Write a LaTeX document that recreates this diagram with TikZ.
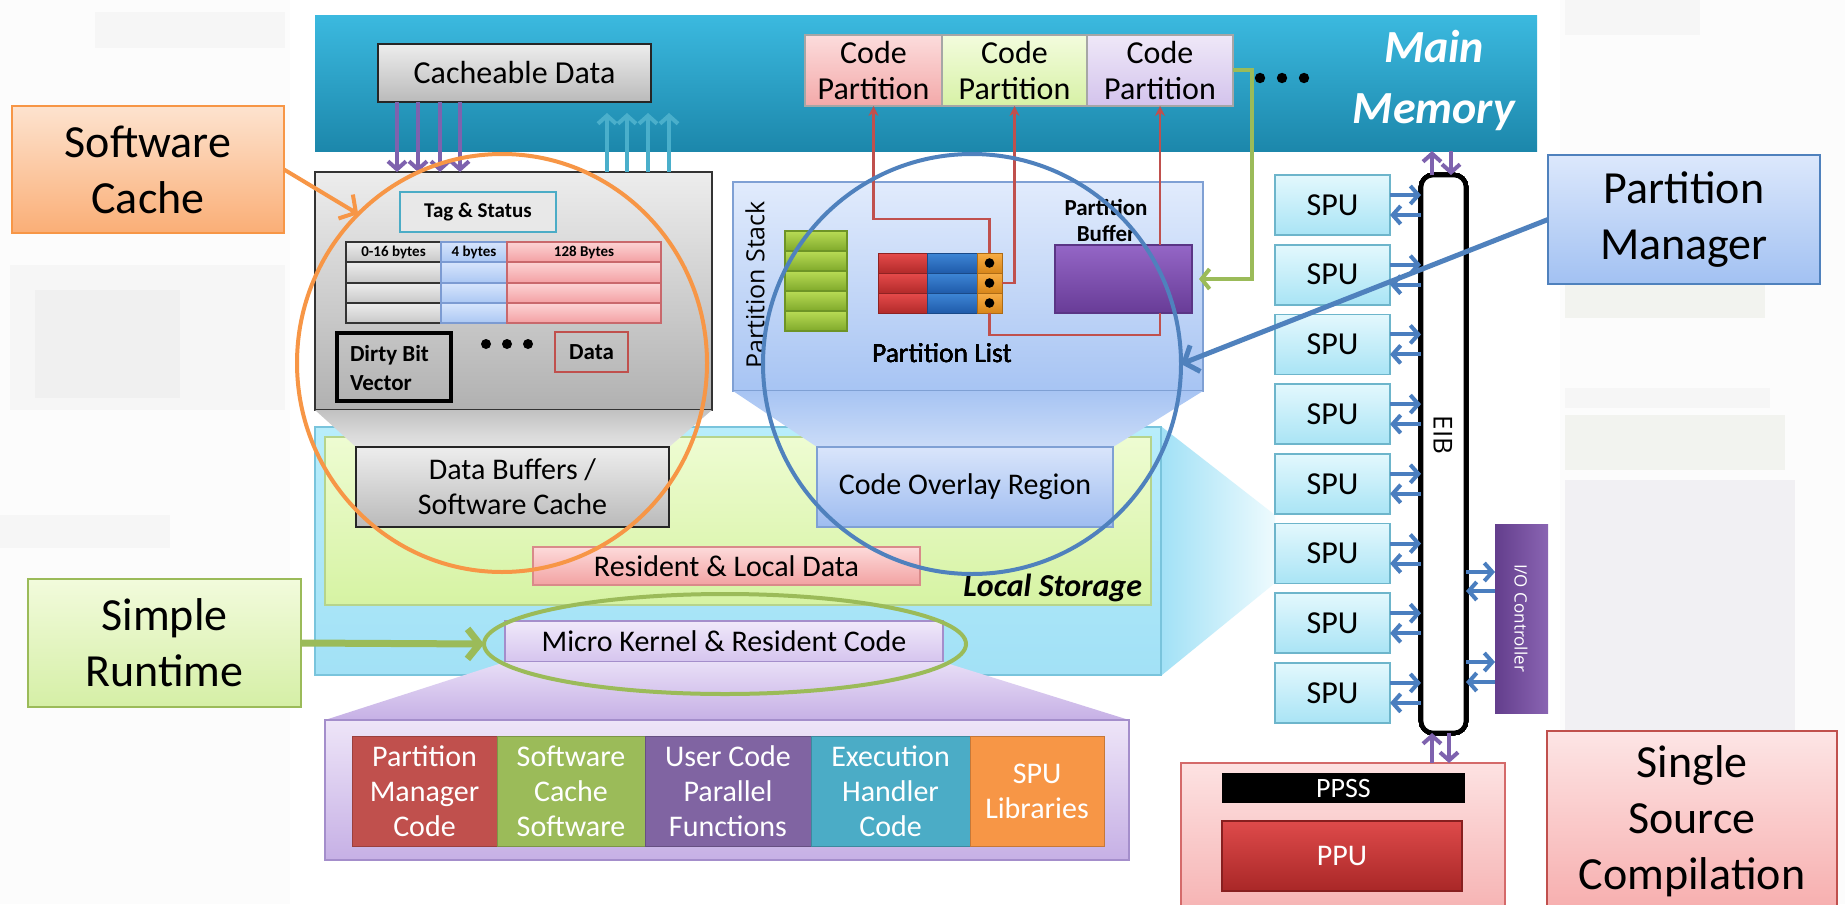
\documentclass[tikz,border=0pt]{standalone}
\usepackage{fontspec}
\setmainfont{Carlito}
\newfontfamily\osans{Open Sans}
\usetikzlibrary{arrows.meta,shapes.geometric}

% palette
\definecolor{mmT}{HTML}{3BB9DF}\definecolor{mmB}{HTML}{1C87AB}
\definecolor{gT}{HTML}{EDEDED}\definecolor{gB}{HTML}{BABABA}
\definecolor{cpaT}{HTML}{FCDCDC}\definecolor{cpaB}{HTML}{F3A9A9}
\definecolor{cpbT}{HTML}{F3FCDD}\definecolor{cpbB}{HTML}{D7F1A6}
\definecolor{cpcT}{HTML}{EFE8F8}\definecolor{cpcB}{HTML}{D3C3EC}
\definecolor{pmT}{HTML}{E1EBFC}\definecolor{pmB}{HTML}{A7C4F3}\definecolor{pmD}{HTML}{7FA0D4}
\definecolor{lscT}{HTML}{B8EDFB}\definecolor{lscB}{HTML}{A2E1F6}\definecolor{lscD}{HTML}{79C4DC}
\definecolor{lsgT}{HTML}{EEFCD2}\definecolor{lsgB}{HTML}{D6F3A3}\definecolor{lsgD}{HTML}{B6D48C}
\definecolor{corT}{HTML}{D9E5FB}\definecolor{corB}{HTML}{9EBCF0}
\definecolor{rldT}{HTML}{FDDADA}\definecolor{rldB}{HTML}{F2A2A2}\definecolor{rldD}{HTML}{D98A8A}
\definecolor{mkT}{HTML}{F0E9FA}\definecolor{mkB}{HTML}{D5C4EE}\definecolor{mkD}{HTML}{A48ECB}
\definecolor{libT}{HTML}{EEE5F8}\definecolor{libB}{HTML}{C6B0E5}
\definecolor{bR}{HTML}{C0504D}\definecolor{bG}{HTML}{9BBB59}\definecolor{bP}{HTML}{8064A2}
\definecolor{bT}{HTML}{4BACC6}\definecolor{bO}{HTML}{F79646}
\definecolor{spuT}{HTML}{E3F8FD}\definecolor{spuB}{HTML}{A9E4F5}\definecolor{spuD}{HTML}{6DB5CB}
\definecolor{arrB}{HTML}{4A7EBF}\definecolor{arrP}{HTML}{7E62AE}\definecolor{arrT}{HTML}{4AAFCB}
\definecolor{lnR}{HTML}{C0504D}\definecolor{lnG}{HTML}{9BBB59}
\definecolor{ioC}{HTML}{7549A5}
\definecolor{ppbT}{HTML}{FDE2E2}\definecolor{ppbB}{HTML}{F6B3B3}\definecolor{ppbD}{HTML}{D46A6A}
\definecolor{ppuT}{HTML}{DE4A4A}\definecolor{ppuB}{HTML}{A92727}
\definecolor{scT}{HTML}{FDE3CF}\definecolor{scB}{HTML}{FAAE76}\definecolor{scD}{HTML}{F79646}
\definecolor{srT}{HTML}{F2FBDC}\definecolor{srB}{HTML}{D5EFA6}\definecolor{srD}{HTML}{9BBB59}
\definecolor{plT}{HTML}{DCE8FC}\definecolor{plB}{HTML}{A2C1F2}\definecolor{plD}{HTML}{4F81BD}
\definecolor{ssT}{HTML}{FDE5E5}\definecolor{ssB}{HTML}{F7AEAE}\definecolor{ssD}{HTML}{C0504D}
\definecolor{stT}{HTML}{B9DB55}\definecolor{stB}{HTML}{7FA92B}\definecolor{stD}{HTML}{6E9426}
\definecolor{lrT}{HTML}{E64B4B}\definecolor{lrB}{HTML}{B22A2A}
\definecolor{lbT}{HTML}{3E86D6}\definecolor{lbB}{HTML}{1F5BAA}
\definecolor{loT}{HTML}{F8AD45}\definecolor{loB}{HTML}{D8861A}
\definecolor{pbT}{HTML}{9466C6}\definecolor{pbB}{HTML}{683C97}\definecolor{pbD}{HTML}{5A3585}
\definecolor{tbT}{HTML}{D7E5FC}\definecolor{tbB}{HTML}{ABC7F3}\definecolor{tbD}{HTML}{7C9BD2}
\definecolor{trT}{HTML}{FCD3D4}\definecolor{trB}{HTML}{F3A0A3}\definecolor{trD}{HTML}{C9686C}
\definecolor{bgA}{HTML}{FCFCFC}\definecolor{bgB}{HTML}{F6F6F6}\definecolor{bgC}{HTML}{F0F0F0}
\definecolor{bgG}{HTML}{F2F3EF}\definecolor{bgL}{HTML}{F1F0F3}

\newcommand\fsz[2]{\fontsize{#1}{#2}\selectfont}
% box node from its corners: name, x1, y1, x2, y2, style, text
\newcommand\mkbox[7]{\node[#6, minimum width={((#4)-(#2))*0.5pt}, minimum height={((#5)-(#3))*0.5pt}] (#1) at ({((#2)+(#4))/2},{((#3)+(#5))/2}) {#7};}

\begin{document}
\begin{tikzpicture}[x=0.5pt,y=-0.5pt,
  every node/.style={inner sep=0pt,outer sep=0pt},
  tx/.style={font=\fsz{15}{17.5},align=center},
  lblbox/.style={draw,line width=1pt,align=center,font=\fsz{23}{28}},
  greybox/.style={draw=black!85,line width=1.1pt,top color=gT,bottom color=gB},
  cpbox/.style={draw=black!35,line width=0.6pt,align=center,font=\fsz{16}{18}},
  spubox/.style={draw=spuD,line width=0.8pt,top color=spuT,bottom color=spuB,font=\fsz{16}{18}},
  blk/.style={tx,text=white,line width=0.4pt},
  cellbox/.style={line width=0.7pt},
  barw/.style={draw=arrB,line width=2pt,-{Straight Barb[length=4pt,width=9pt]}},
  parw/.style={draw=arrP,line width=2pt,-{Straight Barb[length=4pt,width=9pt]}},
  tarw/.style={draw=arrT,line width=2pt,-{Straight Barb[length=4pt,width=9pt]}},
  redln/.style={draw=lnR,line width=1.4pt},
  ring/.style={ellipse,draw,line width=2pt},
]
\useasboundingbox (0,0) rectangle (1845,904);
\clip (0,0) rectangle (1845,904);
\fill[white] (0,0) rectangle (1845,904);

% faded slide behind
\fill[bgA] (0,0) rectangle (290,904);
\fill[bgB] (95,12) rectangle (285,48);
\fill[bgB] (10,265) rectangle (285,410);
\fill[bgC] (35,290) rectangle (180,398);
\fill[bgB] (0,515) rectangle (170,548);
\fill[bgA] (1560,0) rectangle (1845,904);
\fill[bgB] (1565,0) rectangle (1700,35);
\fill[bgG] (1565,282) rectangle (1765,318);
\fill[bgB] (1565,388) rectangle (1770,408);
\fill[bgG] (1565,415) rectangle (1785,470);
\fill[bgL] (1565,480) rectangle (1795,735);

% ---------- main memory ----------
\mkbox{mm}{315}{16}{1537}{151}{top color=mmT,bottom color=mmB}{}
\node[font=\bfseries\itshape\fsz{23}{30.5},text=white,align=center] (mmt) at (1434,80) {Main\\Memory};
\mkbox{cd}{378}{44}{651}{102}{greybox,font=\fsz{16}{18}}{Cacheable Data}
\mkbox{cpa}{805}{35}{942}{106}{cpbox,top color=cpaT,bottom color=cpaB}{Code\\Partition}
\mkbox{cpb}{942}{35}{1087}{106}{cpbox,top color=cpbT,bottom color=cpbB}{Code\\Partition}
\mkbox{cpc}{1087}{35}{1233}{106}{cpbox,top color=cpcT,bottom color=cpcB}{Code\\Partition}
\foreach \dx in {1260,1282,1304} \fill (\dx,78) circle (2.6pt);

% ---------- local storage ----------
\mkbox{lsc}{315}{427}{1161}{675}{draw=lscD,line width=0.8pt,top color=lscT,bottom color=lscB}{}
\shade[left color=lscB,right color=spuT!60] (1162,427) -- (1275,515) -- (1275,583) -- (1162,675) -- cycle;
\mkbox{lsg}{325}{437}{1151}{605}{draw=lsgD,line width=0.8pt,top color=lsgT,bottom color=lsgB}{}
\node[font=\bfseries\itshape\fsz{16}{18},anchor=east] (lst) at (1142,588) {Local Storage};

% ---------- software cache ----------
\mkbox{swc}{315}{172}{712}{410}{draw=black!80,line width=1.1pt,top color=gT,bottom color=gB!95!black}{}
\mkbox{tag}{400}{192}{556}{232}{draw=bT,line width=1.3pt,fill=gT!90!gB,font=\bfseries\fsz{10.5}{12}}{Tag \& Status}
\foreach \r/\ya/\yb in {0/242/262,1/262/283,2/283/303,3/303/323}{
  \mkbox{ta\r}{346}{\ya}{441}{\yb}{cellbox,draw=black!80,top color=gT,bottom color=gB!80}{}
  \mkbox{tb\r}{441}{\ya}{507}{\yb}{cellbox,draw=tbD,top color=tbT,bottom color=tbB}{}
  \mkbox{tc\r}{507}{\ya}{661}{\yb}{cellbox,draw=trD,top color=trT,bottom color=trB}{}
}
\node[font=\bfseries\fsz{7.5}{9}] at (ta0) {0-16 bytes};
\node[font=\bfseries\fsz{7.5}{9}] at (tb0) {4 bytes};
\node[font=\bfseries\fsz{7.5}{9}] at (tc0) {128 Bytes};
\mkbox{dbv}{337}{333}{451}{401}{draw=black,line width=1.6pt}{}
\node[font=\bfseries\fsz{11.5}{14.5},align=left,anchor=west] (dbvt) at (350,368) {Dirty Bit\\Vector};
\foreach \dx in {486,507,528} \fill (\dx,344) circle (2.5pt);
\mkbox{dat}{555}{332}{628}{372}{draw=lnR,line width=1.3pt,font=\bfseries\fsz{11.5}{13}}{Data}

\shade[top color=gB!90,bottom color=gT!85!gB] (315,410) -- (712,410) -- (669,447) -- (356,447) -- cycle;
\mkbox{dbuf}{356}{447}{669}{527}{greybox,tx}{Data Buffers /\\Software Cache}

% ---------- partition manager region ----------
\mkbox{pmr}{733}{182}{1203}{391}{draw=pmD,line width=0.8pt,top color=pmT,bottom color=pmB}{}
\node[rotate=90,font=\osans\fsz{12.5}{15}] (pst) at (755,285) {Partition Stack};
\foreach \k in {0,...,4}
  \mkbox{gs\k}{785}{231+20*\k}{847}{251+20*\k}{draw=stD,line width=0.6pt,top color=stT,bottom color=stB}{}
\foreach \k in {1,2,3}{
  \mkbox{lr\k}{878}{233+20*\k}{927}{253+20*\k}{draw=lrB!80!black,line width=0.4pt,top color=lrT,bottom color=lrB}{}
  \mkbox{lb\k}{927}{233+20*\k}{977}{253+20*\k}{draw=lbB!80!black,line width=0.4pt,top color=lbT,bottom color=lbB}{}
  \mkbox{oc\k}{977}{233+20*\k}{1002}{253+20*\k}{draw=loB!80!black,line width=0.4pt,top color=loT,bottom color=loB}{}
}
\node[font=\mdseries\fsz{13.75}{16}] (plt) at (942,353) {Partition List};
\mkbox{pb}{1055}{245}{1192}{313}{draw=pbD,line width=0.8pt,top color=pbT,bottom color=pbB}{}
\node[font=\bfseries\fsz{11.5}{13},align=center] (pbt) at (1106,220) {Partition\\Buffer};

\shade[top color=pmB,bottom color=pmB!60!white] (733,391) -- (1203,391) -- (1113,447) -- (817,447) -- cycle;
\mkbox{cor}{817}{447}{1113}{527}{draw=pmD,line width=0.8pt,top color=corT,bottom color=corB,tx}{Code Overlay Region}

% partition list pointers
\draw[redln,-{Stealth[length=5pt,width=5pt]}] (oc1.north) |- (cpa.south |- 0,219) -- (cpa.south);
\draw[redln,-{Stealth[length=5pt,width=5pt]}] (oc2.east) -| (cpb.south);
\draw[redln,-{Stealth[length=5pt,width=5pt]}] (cpc.south |- pb.north) -- (cpc.south);
\draw[redln] (cpc.south |- pb.south) |- (oc3.south |- 0,335) -- (oc3.south);
\foreach \k in {1,2,3} \fill[black] (oc\k) circle (2.4pt);
\draw[draw=lnG,line width=2pt,-{Straight Barb[length=4pt,width=10pt]},shorten >=3.5pt] (cpc.east) -- ++(19,0) |- (pb.east);

% ---------- resident data and runtime ----------
\mkbox{rld}{533}{547}{920}{585}{draw=rldD,line width=0.8pt,top color=rldT,bottom color=rldB,tx}{Resident \& Local Data}
\mkbox{mk}{505}{621}{943}{662}{draw=mkD,line width=0.8pt,top color=mkT,bottom color=mkB,tx}{Micro Kernel \& Resident Code}
\shade[top color=mkT!70!mkB,bottom color=libB] (505,662) -- (943,662) -- (1129,720) -- (325,720) -- cycle;
\mkbox{lib}{325}{720}{1129}{860}{draw=mkD,line width=0.8pt,top color=libT,bottom color=libB}{}
\mkbox{ba}{352}{736}{497}{846}{blk,fill=bR,draw=bR!80!black}{Partition\\Manager\\Code}
\mkbox{bb}{497}{736}{645}{846}{blk,fill=bG,draw=bG!80!black}{Software\\Cache\\Software}
\mkbox{bc}{645}{736}{811}{846}{blk,fill=bP,draw=bP!80!black}{User Code\\Parallel\\Functions}
\mkbox{bd}{811}{736}{970}{846}{blk,fill=bT,draw=bT!80!black}{Execution\\Handler\\Code}
\mkbox{be}{970}{736}{1104}{846}{blk,fill=bO,draw=bO!80!black}{SPU\\Libraries}

% ---------- processor side ----------
\foreach \i in {0,...,7}
  \mkbox{spu\i}{1275}{175+69.7*\i}{1390}{235+69.7*\i}{spubox}{SPU}
\mkbox{eib}{1421}{175}{1466}{733}{draw=black,line width=2.3pt,rounded corners=6pt,fill=white}{}
\node[rotate=-90,font=\osans\fsz{13}{15}] (eibt) at (1443,435) {EIB};
\mkbox{io}{1495}{524}{1548}{713}{left color=ioC!85!black,right color=ioC!85!white}{}
\node[rotate=-90,font=\osans\fsz{8.5}{10},text=white] (iot) at (1521,618) {I/O Controller};
\mkbox{ppb}{1181}{763}{1505}{912}{draw=ppbD,line width=0.9pt,top color=ppbT,bottom color=ppbB}{}
\mkbox{ppss}{1222}{773}{1465}{803}{fill=black,text=white,font=\fsz{14}{16}}{PPSS}
\mkbox{ppu}{1222}{821}{1462}{891}{draw=ppuB!80!black,line width=0.6pt,top color=ppuT,bottom color=ppuB,text=white,font=\fsz{15}{17}}{PPU}

\foreach \i in {0,...,7}{
  \draw[barw,transform canvas={yshift=5pt}] (spu\i.east) -- (spu\i.east -| eib.west);
  \draw[barw,transform canvas={yshift=-5pt}] (spu\i.east -| eib.west) -- (spu\i.east);
}
\draw[barw] (eib.east |- 0,572) -- (io.west |- 0,572);
\draw[barw] (io.west |- 0,591) -- (eib.east |- 0,591);
\draw[barw] (eib.east |- 0,662) -- (io.west |- 0,662);
\draw[barw] (io.west |- 0,682) -- (eib.east |- 0,682);
\draw[parw] (1432,0 |- eib.north) -- (1432,0 |- mm.south);
\draw[parw] (1451,0 |- mm.south) -- (1451,0 |- eib.north);
\draw[parw] (1432,0 |- ppb.north) -- (1432,0 |- eib.south);
\draw[parw] (1449,0 |- eib.south) -- (1449,0 |- ppb.north);

% cache traffic
\foreach \ax in {397,418,440,460} \draw[parw] (\ax,0 |- cd.south) -- (\ax,0 |- swc.north);
\foreach \ax in {607,627,648,669} \draw[tarw,shorten >=5.5pt] (\ax,0 |- swc.north) -- (\ax,0 |- cd.south);

% ---------- highlight rings and callouts ----------
\node[ring,draw=scD,minimum width=205pt,minimum height=209pt] (oell) at (502,363) {};
\node[ring,draw=plD,minimum width=209pt,minimum height=210pt] (bell) at (972,364) {};
\node[ring,draw=srD,minimum width=241pt,minimum height=50pt] (gell) at (725,644) {};

\mkbox{sclab}{12}{106}{284}{233}{lblbox,draw=scD,top color=scT,bottom color=scB}{Software\\Cache}
\mkbox{srlab}{28}{579}{301}{707}{lblbox,draw=srD,top color=srT,bottom color=srB}{Simple\\Runtime}
\mkbox{pmlab}{1548}{155}{1820}{284}{lblbox,draw=plD,top color=plT,bottom color=plB}{Partition\\Manager}
\mkbox{sslab}{1547}{731}{1837}{911}{lblbox,draw=ssD,top color=ssT,bottom color=ssB}{Single\\Source\\Compilation}

\draw[draw=scD,line width=2pt,-{Straight Barb[length=6pt,width=14pt]}] (sclab.east) -- (oell.134);
\draw[draw=plD,line width=2.5pt,-{Straight Barb[length=6pt,width=14pt]}] (pmlab.west) -- (bell.east);
\draw[draw=srD,line width=3.5pt,-{Straight Barb[length=6pt,width=15pt]}] (srlab.east) -- (gell.west);
\end{tikzpicture}
\end{document}
